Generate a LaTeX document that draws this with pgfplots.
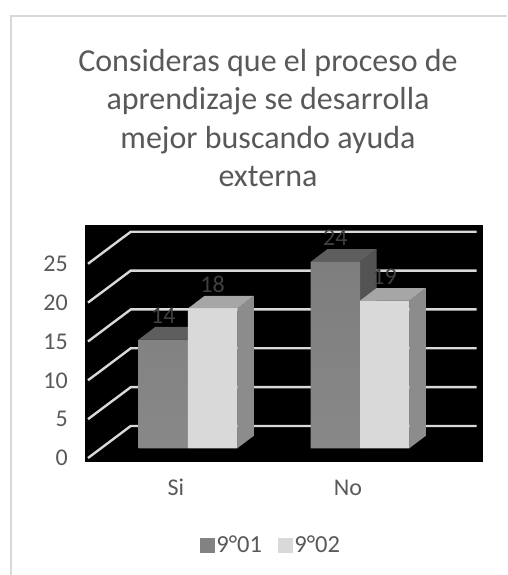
\documentclass[border=0pt]{standalone}
\usepackage{pgfplots}
\pgfplotsset{compat=1.18}
\usepackage{fontspec}
\setmainfont{Carlito}
\definecolor{txt}{HTML}{595959}
\definecolor{lbl}{HTML}{404040}
\definecolor{gridc}{HTML}{D9D9D9}
\definecolor{darkfront}{HTML}{828282}
\definecolor{darkupper}{HTML}{7E7E7E}
\definecolor{darklower}{HTML}{888888}
\definecolor{darktop}{HTML}{5E5E5E}
\definecolor{darkside}{HTML}{535353}
\definecolor{lightfront}{HTML}{D9D9D9}
\definecolor{lighttop}{HTML}{A6A6A6}
\definecolor{lightside}{HTML}{8C8C8C}
\begin{document}
\begin{tikzpicture}[x=1pt,y=1pt]
\useasboundingbox (0,0) rectangle (507,575);
% chart frame
\draw[gridc,line width=2pt] (11,0) -- (11,559) -- (507,559);
% title
\node[align=center,text=txt,font=\fontsize{32}{38.2}\selectfont] at (268,457)
  {Consideras que el proceso de\\aprendizaje se desarrolla\\mejor buscando ayuda\\externa};
% back wall: value axis, category labels, legend and gridlines
\begin{axis}[
  at={(85pt,113.3pt)},anchor=south west,
  width=397.7pt,height=236.7pt,scale only axis,
  xmin=-0.529,xmax=1.783,ymin=-0.476,ymax=29.99,
  axis background/.style={fill=black},
  axis line style={draw=none},
  major tick length=0pt,
  xtick={0,1},xticklabels={Si,No},
  ytick={0,5,10,15,20,25},
  /pgf/number format/assume math mode=true,
  tick label style={text=txt,font=\fontsize{24}{26}\selectfont,inner sep=0pt},
  xticklabel style={anchor=center,yshift=-26pt},
  yticklabel style={anchor=east,xshift=-17pt},
  legend style={at={(0.4677,-0.351)},anchor=center,draw=none,fill=none,
    font=\fontsize{24.5}{26}\selectfont,text=txt,legend columns=2,
    /tikz/every even column/.append style={column sep=14pt},
    legend cell align=left},
]
\addlegendimage{legend image code/.code={\fill[darkfront] (0pt,-7pt) rectangle (14pt,7pt);}}
\addlegendentry{9°01}
\addlegendimage{legend image code/.code={\fill[lightfront] (0pt,-7pt) rectangle (14pt,7pt);}}
\addlegendentry{9°02}
\addplot[gridc,line width=2.4pt] coordinates {(-0.5116,0) (-0.263,4.12) (1.748,4.12)};
\addplot[gridc,line width=2.4pt] coordinates {(-0.5116,5) (-0.263,9.12) (1.748,9.12)};
\addplot[gridc,line width=2.4pt] coordinates {(-0.5116,10) (-0.263,14.12) (1.748,14.12)};
\addplot[gridc,line width=2.4pt] coordinates {(-0.5116,15) (-0.263,19.12) (1.748,19.12)};
\addplot[gridc,line width=2.4pt] coordinates {(-0.5116,20) (-0.263,24.12) (1.748,24.12)};
\addplot[gridc,line width=2.4pt] coordinates {(-0.5116,25) (-0.263,29.12) (1.748,29.12)};
\end{axis}
% prisms standing on the floor, set back from the front edge
\begin{axis}[
  at={(85pt,113.3pt)},anchor=south west,
  width=397.7pt,height=236.7pt,scale only axis,
  xmin=-0.5988,xmax=1.7134,ymin=-1.725,ymax=28.74,
  hide axis,clip=false,
  /pgf/number format/assume math mode=true,
  every node near coord/.append style={anchor=center,yshift=24pt,text=lbl,
    font=\fontsize{24}{26}\selectfont,inner sep=0pt},
]
% 9°01: side and top faces, then the fronts
\addplot[fill=darkside,draw=none] coordinates {(0,0) (0.097,1.63) (0.097,15.63) (0,14)} -- cycle;
\addplot[fill=darktop,draw=none] coordinates {(-0.2866,14) (0,14) (0.097,15.63) (-0.1896,15.63)} -- cycle;
\addplot[fill=darkside,draw=none] coordinates {(1,0) (1.097,1.63) (1.097,25.63) (1,24)} -- cycle;
\addplot[fill=darktop,draw=none] coordinates {(0.7134,24) (1,24) (1.097,25.63) (0.8104,25.63)} -- cycle;
\addplot[ybar,bar width=0.2866,bar shift=-0.1433,draw=none,top color=darkupper,bottom color=darklower,
  nodes near coords,every node near coord/.append style={xshift=-24.6pt}]
  coordinates {(0,14) (1,24)};
% 9°02
\addplot[fill=lightside,draw=none] coordinates {(0.2866,0) (0.3836,1.63) (0.3836,19.63) (0.2866,18)} -- cycle;
\addplot[fill=lighttop,draw=none] coordinates {(0,18) (0.2866,18) (0.3836,19.63) (0.097,19.63)} -- cycle;
\addplot[fill=lightside,draw=none] coordinates {(1.2866,0) (1.3836,1.63) (1.3836,20.63) (1.2866,19)} -- cycle;
\addplot[fill=lighttop,draw=none] coordinates {(1,19) (1.2866,19) (1.3836,20.63) (1.097,20.63)} -- cycle;
\addplot[ybar,bar width=0.2866,bar shift=0.1433,draw=none,fill=lightfront,
  nodes near coords,every node near coord/.append style={xshift=24.6pt}]
  coordinates {(0,18) (1,19)};
\end{axis}
\end{tikzpicture}
\end{document}
